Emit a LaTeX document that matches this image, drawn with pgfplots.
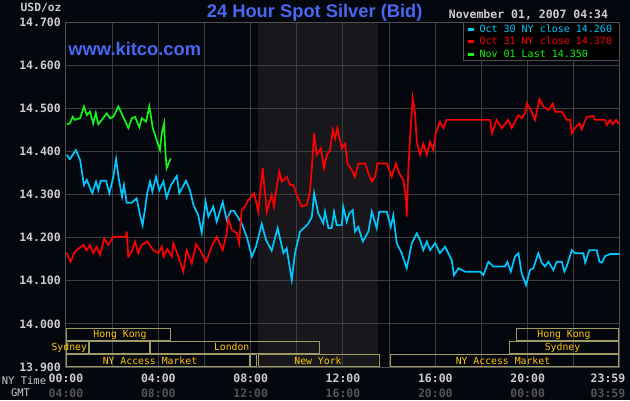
\documentclass[border=0pt]{standalone}
\usepackage{pgfplots}
\pgfplotsset{compat=1.18}
\usepackage{fontspec}
\setmainfont{DejaVu Sans Mono}
\newfontfamily\titlefont{Liberation Sans}

\definecolor{bgc}{RGB}{5,7,14}
\definecolor{gridc}{RGB}{62,62,62}
\definecolor{framec}{RGB}{80,80,80}
\definecolor{shadec}{RGB}{24,24,28}
\definecolor{tickc}{RGB}{205,205,205}
\definecolor{gmtc}{RGB}{85,85,85}
\definecolor{titlec}{RGB}{72,104,240}
\definecolor{cyanc}{RGB}{0,200,255}
\definecolor{redc}{RGB}{255,0,0}
\definecolor{greenc}{RGB}{20,245,20}
\definecolor{boxc}{RGB}{160,154,100}
\definecolor{mktc}{RGB}{255,200,0}

\begin{document}
\begin{tikzpicture}[x=1pt,y=1pt]
\fill[bgc] (-66,-33) rectangle (564,367);
% New York session shading (8:20 - 13:30)
\fill[shadec] (192.3,0) rectangle (312,345);
\begin{axis}[
    at={(0pt,0pt)}, anchor=south west,
    scale only axis, width=554pt, height=345pt,
    xmin=0, xmax=24, ymin=13.9, ymax=14.7,
    axis line style={framec, line width=1pt},
    major tick length=0pt, minor tick length=0pt,
    tick style={draw=none},
    xtick={0,4,8,12,16,20},
    minor xtick={2,6,10,14,18,22},
    xticklabels={{00:00\\\textcolor{gmtc}{04:00}},{04:00\\\textcolor{gmtc}{08:00}},
      {08:00\\\textcolor{gmtc}{12:00}},{12:00\\\textcolor{gmtc}{16:00}},
      {16:00\\\textcolor{gmtc}{20:00}},{20:00\\\textcolor{gmtc}{00:00}}},
    extra x ticks={23.48},
    extra x tick labels={{23:59\\\textcolor{gmtc}{03:59}}},
    extra x tick style={grid=none},
    xticklabel style={align=center, font=\bfseries\fontsize{11.5}{15}\selectfont,
      text=tickc, inner sep=0pt, anchor=north, yshift=-7pt},
    ytick={13.9,14.0,14.1,14.2,14.3,14.4,14.5,14.6,14.7},
    /pgf/number format/assume math mode=true,
    yticklabel={\pgfmathprintnumber[fixed,fixed zerofill,precision=3]{\tick}},
    yticklabel style={font=\bfseries\fontsize{11.5}{12}\selectfont, text=tickc,
      inner sep=0pt, anchor=east, xshift=-5pt},
    grid=both,
    major grid style={gridc, line width=1pt},
    minor grid style={gridc, line width=1pt},
    legend cell align=left,
    legend image code/.code={\draw[#1, line width=3pt] (0pt,0pt) -- (6pt,0pt);},
    legend style={draw=none, fill=none, at={(0.722,0.9933)}, anchor=north west,
      inner sep=0pt, row sep=2.3pt, column sep=4.4pt,
      font=\fontsize{10}{12}\selectfont,
      nodes={inner sep=0pt, text height=8pt, text depth=2pt}},
  ]
  % Oct 30
  \addplot[cyanc, line width=1.7pt] coordinates {
    (0.03,14.392)(0.17,14.382)(0.43,14.403)(0.61,14.380)(0.78,14.322)(0.90,14.334)
    (1.14,14.303)(1.30,14.330)(1.40,14.310)(1.50,14.332)(1.73,14.332)(1.88,14.303)
    (2.05,14.341)(2.17,14.382)(2.28,14.338)(2.43,14.295)(2.51,14.322)(2.63,14.281)
    (2.85,14.281)(3.06,14.291)(3.21,14.252)(3.32,14.229)(3.52,14.303)(3.64,14.330)
    (3.74,14.307)(3.90,14.341)(4.04,14.310)(4.22,14.330)(4.36,14.293)(4.55,14.322)
    (4.80,14.343)(4.91,14.303)(5.20,14.332)(5.37,14.310)(5.52,14.276)(5.73,14.252)
    (5.88,14.211)(6.05,14.283)(6.17,14.249)(6.38,14.272)(6.53,14.237)(6.79,14.283)
    (6.96,14.241)(7.14,14.262)(7.28,14.262)(7.61,14.233)(7.83,14.202)(8.05,14.156)
    (8.23,14.179)(8.48,14.232)(8.67,14.194)(8.91,14.170)(9.17,14.222)(9.42,14.164)
    (9.56,14.175)(9.78,14.102)(9.92,14.164)(10.14,14.214)(10.36,14.225)(10.50,14.233)
    (10.65,14.248)(10.75,14.303)(10.93,14.256)(11.15,14.233)(11.22,14.260)(11.37,14.222)
    (11.51,14.222)(11.61,14.260)(11.73,14.229)(11.95,14.229)(12.01,14.272)(12.16,14.237)
    (12.27,14.256)(12.42,14.264)(12.52,14.214)(12.66,14.225)(12.86,14.191)(13.10,14.214)
    (13.25,14.260)(13.46,14.222)(13.57,14.260)(13.90,14.260)(14.07,14.225)(14.18,14.252)
    (14.33,14.187)(14.54,14.164)(14.76,14.129)(14.98,14.187)(15.20,14.210)(15.34,14.194)
    (15.48,14.171)(15.63,14.191)(15.77,14.171)(15.99,14.187)(16.20,14.164)(16.42,14.179)
    (16.56,14.164)(16.71,14.148)(16.81,14.113)(17.00,14.129)(17.29,14.121)(17.94,14.121)
    (18.08,14.113)(18.30,14.144)(18.51,14.133)(19.02,14.133)(19.12,14.144)(19.27,14.121)
    (19.45,14.156)(19.60,14.164)(19.74,14.117)(19.93,14.090)(20.10,14.125)(20.25,14.129)
    (20.46,14.164)(20.61,14.142)(20.75,14.133)(20.90,14.144)(21.11,14.125)(21.26,14.144)
    (21.48,14.144)(21.59,14.121)(21.69,14.133)(21.91,14.171)(22.05,14.164)(22.41,14.164)
    (22.49,14.142)(22.67,14.171)(22.99,14.171)(23.11,14.144)(23.21,14.142)(23.35,14.157)
    (23.57,14.162)(23.97,14.162)
  };
  \addlegendentry{\textcolor{cyanc}{Oct 30 NY close 14.260}}

  % Oct 31
  \addplot[redc, line width=1.7pt] coordinates {
    (0.03,14.164)(0.20,14.144)(0.35,14.164)(0.46,14.171)(0.75,14.183)(0.90,14.171)
    (1.04,14.183)(1.18,14.164)(1.33,14.179)(1.47,14.160)(1.66,14.198)(1.83,14.183)
    (2.05,14.202)(2.60,14.202)(2.63,14.214)(2.70,14.156)(2.85,14.167)(2.99,14.191)
    (3.13,14.164)(3.28,14.183)(3.52,14.191)(3.78,14.171)(4.00,14.164)(4.15,14.179)
    (4.22,14.156)(4.39,14.173)(4.58,14.156)(4.65,14.187)(4.87,14.156)(5.08,14.121)
    (5.23,14.171)(5.45,14.140)(5.63,14.185)(5.81,14.171)(6.07,14.144)(6.31,14.179)
    (6.53,14.202)(6.79,14.171)(6.96,14.210)(7.03,14.245)(7.18,14.218)(7.40,14.210)
    (7.50,14.187)(7.61,14.264)(7.76,14.272)(7.90,14.287)(8.15,14.303)(8.33,14.260)
    (8.52,14.361)(8.70,14.260)(8.91,14.299)(9.01,14.272)(9.13,14.318)(9.24,14.353)
    (9.35,14.330)(9.56,14.341)(9.71,14.322)(9.85,14.322)(10.00,14.299)(10.21,14.272)
    (10.43,14.276)(10.57,14.307)(10.65,14.361)(10.75,14.442)(10.86,14.392)(11.04,14.407)
    (11.18,14.361)(11.30,14.392)(11.44,14.403)(11.56,14.450)(11.66,14.430)(11.75,14.454)
    (11.95,14.407)(12.09,14.418)(12.19,14.372)(12.38,14.357)(12.52,14.341)(12.66,14.372)
    (12.96,14.372)(13.10,14.349)(13.25,14.330)(13.39,14.341)(13.49,14.372)(13.90,14.372)
    (14.11,14.341)(14.30,14.372)(14.44,14.349)(14.61,14.334)(14.73,14.291)(14.76,14.249)
    (14.83,14.357)(14.90,14.426)(15.02,14.523)(15.12,14.488)(15.20,14.422)(15.34,14.392)
    (15.48,14.418)(15.63,14.392)(15.77,14.422)(15.91,14.403)(16.02,14.442)(16.20,14.469)
    (16.35,14.454)(16.49,14.473)(18.37,14.473)(18.45,14.442)(18.66,14.473)(18.88,14.454)
    (19.16,14.473)(19.31,14.454)(19.60,14.484)(19.74,14.477)(19.89,14.488)(19.96,14.511)
    (20.10,14.500)(20.32,14.473)(20.51,14.521)(20.68,14.504)(20.90,14.496)(21.09,14.511)
    (21.19,14.492)(21.48,14.492)(21.69,14.473)(21.84,14.473)(21.91,14.442)(22.05,14.454)
    (22.24,14.465)(22.34,14.451)(22.56,14.480)(22.85,14.482)(22.92,14.473)(23.35,14.473)
    (23.43,14.461)(23.57,14.473)(23.69,14.463)(23.83,14.473)(23.97,14.463)
  };
  \addlegendentry{\textcolor{redc}{Oct 31 NY close 14.370}}

  % Nov 01
  \addplot[greenc, line width=1.7pt] coordinates {
    (0.03,14.463)(0.17,14.465)(0.29,14.480)(0.39,14.473)(0.61,14.477)(0.78,14.504)
    (0.90,14.484)(1.04,14.492)(1.18,14.465)(1.29,14.489)(1.40,14.463)(1.55,14.473)
    (1.76,14.488)(1.91,14.477)(2.05,14.480)(2.27,14.504)(2.48,14.480)(2.70,14.454)
    (2.85,14.477)(2.99,14.480)(3.18,14.456)(3.28,14.477)(3.47,14.469)(3.61,14.504)
    (3.76,14.454)(3.93,14.426)(4.07,14.403)(4.15,14.442)(4.25,14.465)(4.30,14.403)
    (4.36,14.361)(4.54,14.384)
  };
  \addlegendentry{\textcolor{greenc}{Nov 01 Last 14.350}}

  \filldraw[fill=black, draw=framec, line width=1pt]
    (rel axis cs:0.7184,0.8870) rectangle (rel axis cs:1,1);
\end{axis}

% market sessions
\begin{scope}[boxc, line width=1pt]
  \draw (0.7,26.5) rectangle (104.7,39);
  \draw (450.7,26.5) rectangle (552,39);
  \draw (0.7,13.5) rectangle (22.3,26);
  \draw (23.3,13.5) rectangle (84,26);
  \draw (84.7,13.5) rectangle (253.3,26);
  \draw (443,13.5) rectangle (552,26);
  \draw (0.7,0.5) rectangle (183.3,13);
  \draw (184.7,0.5) rectangle (190.7,13);
  \draw (192.3,0.5) rectangle (313,13);
  \draw (324,0.5) rectangle (552,13);
\end{scope}
\begin{scope}[every node/.style={text=mktc, anchor=base, inner sep=0pt,
    font=\fontsize{9.8}{10}\selectfont}]
  \node at (54,30) {Hong Kong};
  \node at (498,30) {Hong Kong};
  \node at (3.3,16.5) {Sydney};
  \node at (165.7,16.5) {London};
  \node at (496.5,16.5) {Sydney};
  \node at (84,3) {NY Access Market};
  \node at (252,3) {New York};
  \node at (437,3) {NY Access Market};
\end{scope}

% titles and labels
\node[anchor=base, inner sep=0pt, text=titlec, font=\titlefont\bfseries\fontsize{18.3}{20}\selectfont]
  at (248.7,349) {24 Hour Spot Silver (Bid)};
\node[anchor=base west, inner sep=0pt, text=titlec, font=\titlefont\bfseries\fontsize{18.3}{20}\selectfont]
  at (2.3,311) {www.kitco.com};
\node[anchor=base east, inner sep=0pt, text=tickc, font=\bfseries\fontsize{11.5}{12}\selectfont]
  at (542.3,348) {November 01, 2007 04:34};
\node[anchor=base east, inner sep=0pt, text=tickc, font=\bfseries\fontsize{11.3}{12}\selectfont]
  at (-4.3,355.3) {USD/oz};
\node[anchor=base, inner sep=0pt, text=tickc, font=\fontsize{10.5}{12}\selectfont]
  at (-42,-17) {NY Time};
\node[anchor=base, inner sep=0pt, text=tickc, font=\fontsize{10.5}{12}\selectfont]
  at (-45.5,-29.7) {GMT};
\pgfresetboundingbox
\useasboundingbox (-66,-33) rectangle (564,367);
\end{tikzpicture}
\end{document}
